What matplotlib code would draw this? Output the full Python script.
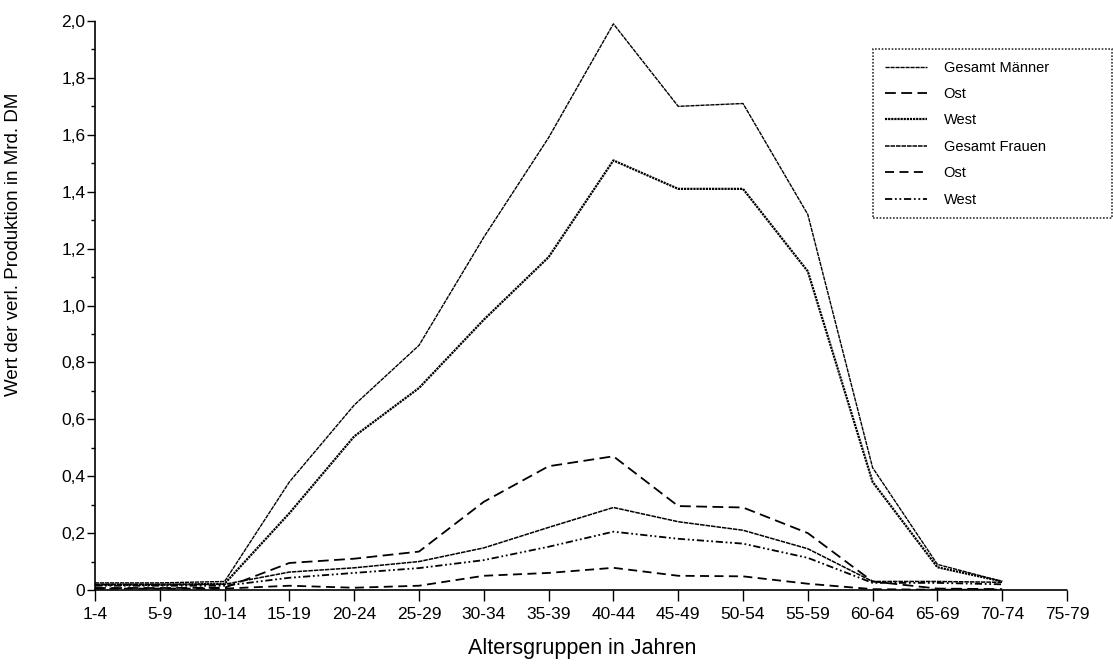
import numpy as np
import matplotlib
matplotlib.use("Agg")
import matplotlib.pyplot as plt
from matplotlib.ticker import MultipleLocator, FixedLocator

plt.rcParams['font.family'] = ['Liberation Sans', 'DejaVu Sans']

# age groups (x axis) and values in Mrd. DM
ages = ['1-4', '5-9', '10-14', '15-19', '20-24', '25-29', '30-34', '35-39',
        '40-44', '45-49', '50-54', '55-59', '60-64', '65-69', '70-74', '75-79']
gesamt_m = [0.025, 0.025, 0.03, 0.38, 0.65, 0.86, 1.24, 1.59, 1.99, 1.70, 1.71, 1.32, 0.43, 0.09, 0.03]
ost_m = [0.007, 0.007, 0.008, 0.095, 0.11, 0.135, 0.31, 0.435, 0.47, 0.295, 0.29, 0.20, 0.03, 0.005, 0.003]
west_m = [0.018, 0.018, 0.022, 0.27, 0.54, 0.71, 0.95, 1.17, 1.51, 1.41, 1.41, 1.12, 0.38, 0.08, 0.03]
gesamt_f = [0.02, 0.02, 0.02, 0.063, 0.078, 0.10, 0.148, 0.22, 0.29, 0.24, 0.21, 0.145, 0.03, 0.03, 0.027]
ost_f = [0.005, 0.005, 0.005, 0.015, 0.008, 0.015, 0.05, 0.06, 0.078, 0.05, 0.048, 0.022, 0.003, 0.001, 0.001]
west_f = [0.015, 0.015, 0.015, 0.043, 0.06, 0.077, 0.105, 0.152, 0.205, 0.18, 0.163, 0.113, 0.025, 0.025, 0.02]

fig = plt.figure(figsize=(11.13, 6.66), dpi=100)
ax = fig.add_axes([95/1113, 1-590/666, 972/1113, 569/666])

x = np.arange(len(gesamt_m))
ax.plot(x, gesamt_m, color='black', lw=1.0, ls=(0, (3, 0.6)), label='Gesamt Männer')
ax.plot(x, ost_m, color='black', lw=1.3, ls=(0, (6, 3)), label='Ost')
ax.plot(x, west_m, color='black', lw=1.6, ls=(0, (1, 0.4)), label='West')
ax.plot(x, gesamt_f, color='black', lw=1.1, ls=(0, (3, 0.6)), label='Gesamt Frauen')
ax.plot(x, ost_f, color='black', lw=1.3, ls=(0, (5, 3)), label='Ost')
ax.plot(x, west_f, color='black', lw=1.3, ls=(0, (4, 1.5, 1, 1.5, 1, 1.5)), label='West')

ax.set_xlim(0, 15)
ax.set_ylim(0, 2.0)
ax.spines['top'].set_visible(False)
ax.spines['right'].set_visible(False)
for s in ('left', 'bottom'):
    ax.spines[s].set_linestyle((0, (1, 1)))
    ax.spines[s].set_linewidth(1.2)

ax.xaxis.set_major_locator(FixedLocator(np.arange(len(ages))))
ax.set_xticklabels(ages)
ax.yaxis.set_minor_locator(MultipleLocator(0.1))
ylabels = ['0'] + [f'{v:.1f}'.replace('.', ',') for v in np.arange(0.2, 2.01, 0.2)]
ax.set_yticks(np.arange(0, 2.01, 0.2))
ax.set_yticklabels(ylabels)
ax.tick_params(axis='x', direction='out', length=8, width=1, labelsize=12.5, pad=4)
ax.tick_params(axis='y', which='major', direction='out', length=6, width=1, labelsize=12.5, pad=1)
ax.tick_params(axis='y', which='minor', direction='out', length=3, width=1)

ax.set_xlabel('Altersgruppen in Jahren', fontsize=15.5)
ax.set_ylabel('Wert der verl. Produktion in Mrd. DM', fontsize=13.5)
ax.xaxis.set_label_coords(0.501, (590 - 638) / 569)
ax.yaxis.set_label_coords((22 - 95) / 972, 0.608)

leg = fig.legend(loc='upper left',
                 bbox_to_anchor=(873/1113, 1-220/666, (1112-873)/1113, 171/666),
                 mode='expand', fontsize=10.5, handlelength=2.9, handletextpad=1.15,
                 labelspacing=0.85, borderpad=0.8, borderaxespad=0,
                 fancybox=False, frameon=True)
leg.get_frame().set_edgecolor('black')
leg.get_frame().set_linestyle((0, (1, 1)))
leg.get_frame().set_linewidth(1.2)

fig.savefig('out.png', dpi=100)
